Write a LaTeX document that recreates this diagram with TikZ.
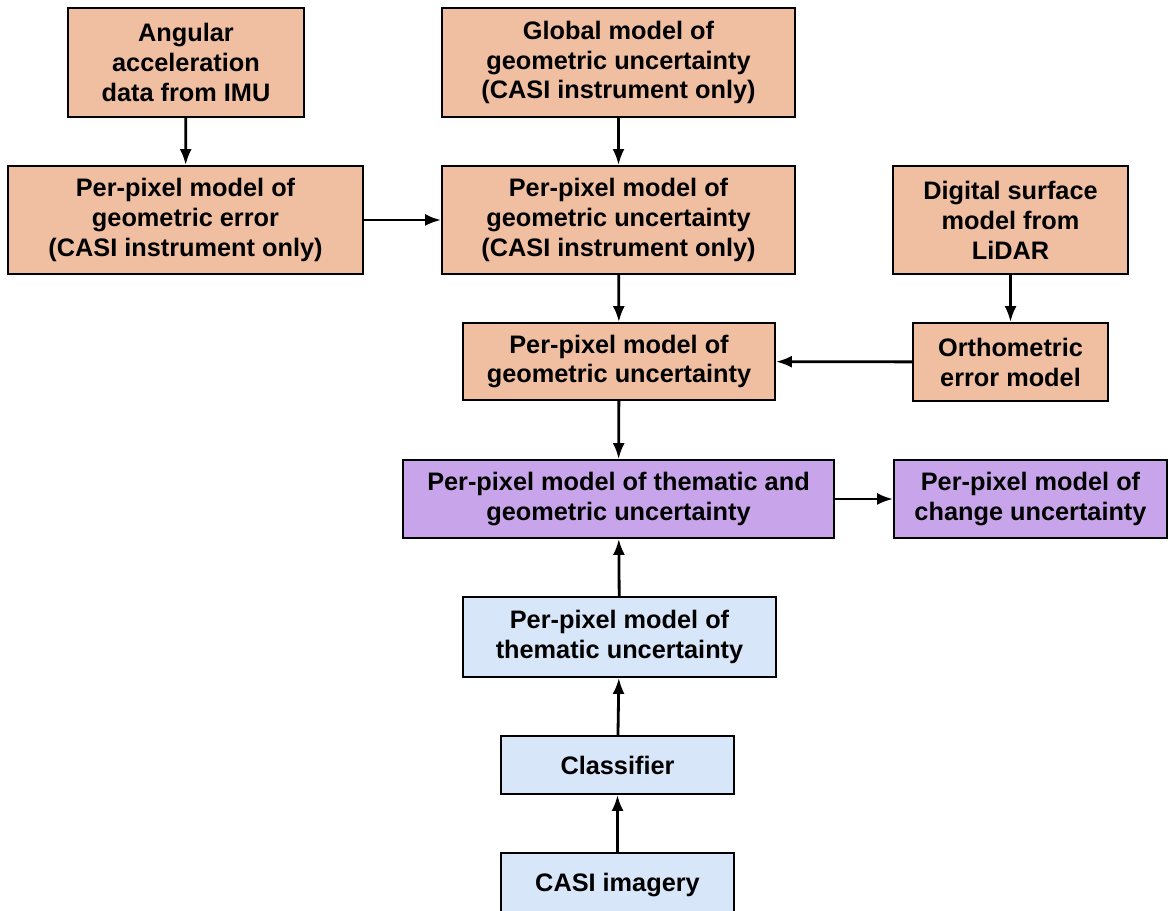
\documentclass[tikz,border=0pt]{standalone}
\usepackage{fontspec}
\setmainfont{Liberation Sans}
\usepackage{tikz}
\usetikzlibrary{arrows.meta,positioning,calc}
\usepackage{xcolor}

\definecolor{boxorange}{RGB}{240,190,160}
\definecolor{boxpurple}{RGB}{200,164,234}
\definecolor{boxblue}{RGB}{216,230,249}

\tikzset{
    basebox/.style={draw=black, line width=1.3pt, align=center, inner sep=0pt,
        font=\fontsize{18}{21.3}\selectfont\bfseries},
    orangebox/.style={basebox, fill=boxorange},
    purplebox/.style={basebox, fill=boxpurple},
    bluebox/.style={basebox, fill=boxblue},
    flow/.style={line width=2pt, -{Latex[length=4mm,width=3mm]}}
}

\begin{document}
\begin{tikzpicture}

    \useasboundingbox[fill=white] (0,0) rectangle (29.35,22.775);

    % ---------------- Geometric chain ----------------
    \node[orangebox, minimum width=5.9cm, minimum height=2.725cm] (imu) at (4.65, 21.2125)
        {Angular\\acceleration\\data from IMU};
    \node[orangebox, minimum width=8.875cm, minimum height=2.7cm] (geoerr) at (4.6375, 17.275)
        {Per-pixel model of\\geometric error\\(CASI instrument only)};
    \node[orangebox, minimum width=8.825cm, minimum height=2.725cm] (globunc) at (15.4625, 21.2125)
        {Global model of\\geometric uncertainty\\(CASI instrument only)};
    \node[orangebox, minimum width=8.825cm, minimum height=2.7cm] (casiunc) at (15.4625, 17.275)
        {Per-pixel model of\\geometric uncertainty\\(CASI instrument only)};
    \node[orangebox, minimum width=5.875cm, minimum height=2.7cm] (dsm) at (25.2625, 17.275)
        {Digital surface\\model from\\LiDAR};
    \node[orangebox, minimum width=7.8cm, minimum height=1.925cm] (geounc) at (15.475, 13.7375)
        {Per-pixel model of\\geometric uncertainty};
    \node[orangebox, minimum width=4.875cm, minimum height=1.95cm] (ortho) at (25.2625, 13.725)
        {Orthometric\\error model};

    % ---------------- Combined ----------------
    \node[purplebox, minimum width=10.775cm, minimum height=1.95cm] (themgeo) at (15.4625, 10.3)
        {Per-pixel model of thematic and\\geometric uncertainty};
    \node[purplebox, minimum width=6.825cm, minimum height=1.95cm] (change) at (25.7625, 10.3)
        {Per-pixel model of\\change uncertainty};

    % ---------------- Thematic chain ----------------
    \node[bluebox, minimum width=7.825cm, minimum height=2cm] (themunc) at (15.4875, 6.85)
        {Per-pixel model of\\thematic uncertainty};
    \node[bluebox, minimum width=5.825cm, minimum height=1.45cm] (classifier) at (15.4375, 3.65)
        {Classifier};
    \node[bluebox, minimum width=5.825cm, minimum height=1.6cm] (imagery) at (15.4375, 0.65)
        {CASI imagery};

    % ---------------- Arrows ----------------
    \draw[flow] (imu) -- (geoerr);
    \draw[flow] (geoerr.east) -- (casiunc.west);
    \draw[flow] (globunc) -- (casiunc);
    \draw[flow] (casiunc) -- (geounc);
    \draw[flow] (dsm) -- (ortho);
    \draw[flow] (ortho) -- (geounc);
    \draw[flow] (geounc) -- (themgeo);
    \draw[flow] (themgeo) -- (change);
    \draw[flow] (themunc) -- (themgeo);
    \draw[flow] (classifier) -- (themunc);
    \draw[flow] (imagery) -- (classifier);

\end{tikzpicture}
\end{document}
